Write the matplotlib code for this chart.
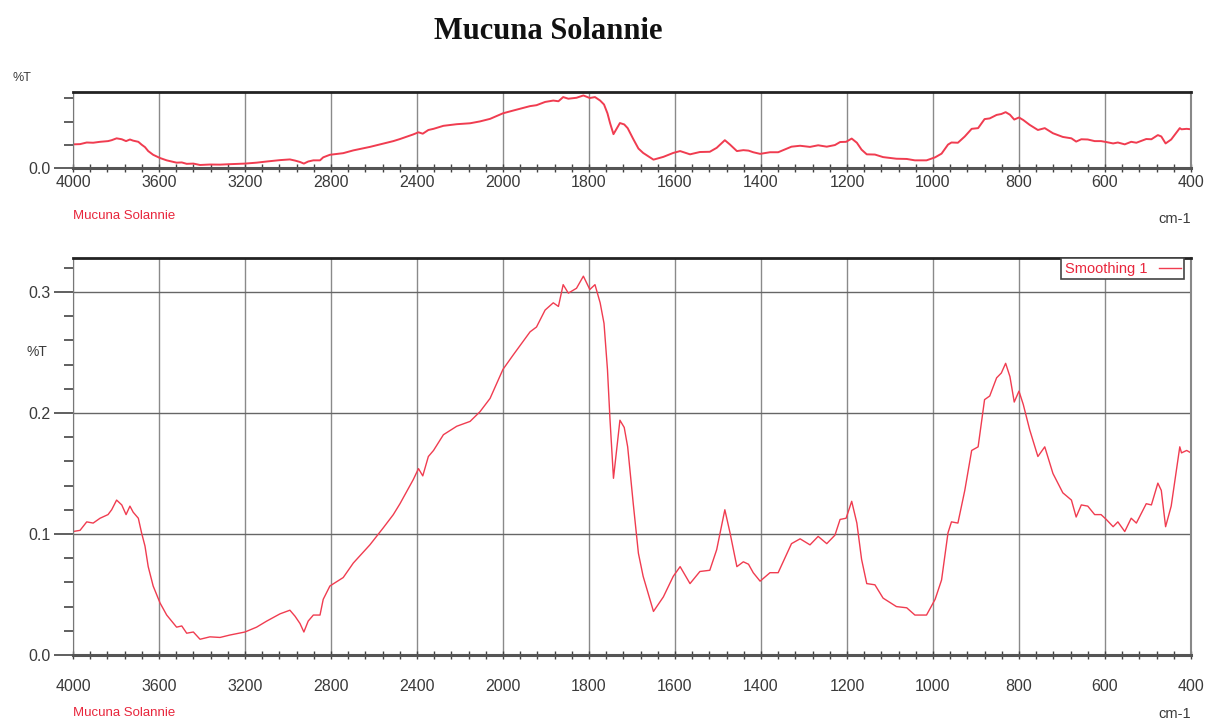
import numpy as np
import matplotlib.pyplot as plt
from matplotlib.ticker import FixedLocator, MultipleLocator, NullFormatter

# wavenumber (cm-1) and %T
wavenumber = [4000, 3967, 3936, 3906, 3874, 3837, 3820, 3797, 3773, 3753, 3735, 3720,
              3696, 3681, 3665, 3650, 3627, 3595, 3564, 3518, 3494, 3471, 3440, 3409,
              3363, 3316, 3270, 3200, 3146, 3099, 3037, 2991, 2967, 2944, 2926, 2906,
              2882, 2851, 2836, 2805, 2743, 2696, 2619, 2557, 2510, 2479, 2417, 2393,
              2373, 2347, 2323, 2277, 2215, 2153, 2107, 2060, 2000, 1976, 1937, 1922,
              1902, 1883, 1871, 1860, 1848, 1829, 1813, 1798, 1786, 1774, 1765, 1757,
              1751, 1743, 1728, 1718, 1710, 1697, 1685, 1674, 1650, 1627, 1604, 1588,
              1565, 1542, 1519, 1503, 1484, 1472, 1456, 1441, 1429, 1418, 1402, 1379,
              1360, 1329, 1309, 1286, 1267, 1247, 1228, 1216, 1202, 1189, 1177, 1166,
              1154, 1135, 1116, 1085, 1061, 1042, 1015, 995, 980, 965, 957, 942,
              926, 910, 895, 880, 868, 852, 841, 831, 821, 811, 800, 790,
              775, 756, 740, 721, 698, 678, 667, 655, 640, 624, 609, 597,
              581, 570, 554, 539, 527, 504, 492, 477, 469, 459, 446, 437,
              426, 422, 410, 400]
transmittance = [0.102, 0.103, 0.110, 0.109, 0.113, 0.116, 0.120, 0.128, 0.124, 0.116, 0.123, 0.118,
                 0.113, 0.101, 0.090, 0.073, 0.057, 0.043, 0.033, 0.023, 0.024, 0.018, 0.019, 0.013,
                 0.015, 0.0145, 0.0165, 0.019, 0.023, 0.028, 0.034, 0.037, 0.032, 0.026, 0.019, 0.028,
                 0.033, 0.033, 0.046, 0.057, 0.064, 0.076, 0.091, 0.105, 0.116, 0.125, 0.145, 0.154,
                 0.148, 0.164, 0.169, 0.182, 0.189, 0.193, 0.201, 0.212, 0.236, 0.248, 0.267, 0.271,
                 0.285, 0.291, 0.288, 0.306, 0.299, 0.303, 0.313, 0.302, 0.306, 0.291, 0.274, 0.236,
                 0.194, 0.146, 0.194, 0.188, 0.172, 0.125, 0.084, 0.065, 0.036, 0.048, 0.065, 0.073,
                 0.059, 0.069, 0.070, 0.087, 0.120, 0.101, 0.073, 0.077, 0.075, 0.068, 0.061, 0.068,
                 0.068, 0.092, 0.096, 0.091, 0.098, 0.092, 0.099, 0.112, 0.113, 0.127, 0.109, 0.079,
                 0.059, 0.058, 0.047, 0.040, 0.039, 0.033, 0.033, 0.046, 0.062, 0.101, 0.110, 0.109,
                 0.136, 0.169, 0.172, 0.211, 0.214, 0.229, 0.233, 0.241, 0.230, 0.209, 0.218, 0.207,
                 0.186, 0.164, 0.172, 0.150, 0.134, 0.128, 0.114, 0.124, 0.123, 0.116, 0.116, 0.112,
                 0.106, 0.110, 0.102, 0.113, 0.109, 0.125, 0.124, 0.142, 0.136, 0.106, 0.123, 0.145,
                 0.172, 0.167, 0.169, 0.167]

xticks = [4000, 3600, 3200, 2800, 2400, 2000, 1800, 1600, 1400, 1200, 1000, 800, 600, 400]
sample = "Mucuna Solannie"
legend_label = "Smoothing 1"

RED = "#f03c50"
TXT = "#3a3a3a"
SANS = "Liberation Sans"


# the spectrometer axis changes scale at 2000 cm-1
def fwd(x):
    x = np.asarray(x, dtype=float)
    return np.where(x >= 2000, (x - 2000) / 400.0, (x - 2000) / 200.0)


def inv(u):
    u = np.asarray(u, dtype=float)
    return np.where(u >= 0, 2000 + 400.0 * u, 2000 + 200.0 * u)


minor_x = list(np.arange(4000, 2000, -80)) + list(np.arange(2000, 399, -40))


def style_axes(ax, top_panel):
    ax.set_xscale("function", functions=(fwd, inv))
    ax.set_xlim(4000, 400)
    ax.set_ylim(0, 0.328)
    ax.xaxis.set_major_locator(FixedLocator(xticks))
    ax.xaxis.set_minor_locator(FixedLocator(minor_x))
    ax.xaxis.set_minor_formatter(NullFormatter())
    ax.set_xticklabels([str(t) for t in xticks])
    ax.grid(axis="x", color="#8a8a8a", lw=1.0)
    ax.tick_params(axis="x", which="both", direction="inout", length=6, width=1,
                   color="#444444", labelcolor=TXT, labelsize=11.5,
                   pad=2 if top_panel else 14)
    for lab in ax.get_xticklabels():
        lab.set_family(SANS)
    ax.spines["top"].set_color("#222222")
    ax.spines["top"].set_linewidth(2.0)
    ax.spines["bottom"].set_color("#555555")
    ax.spines["bottom"].set_linewidth(2.2)
    ax.spines["left"].set_color("#777777")
    ax.spines["right"].set_color("#888888")
    ax.spines["right"].set_linewidth(1.5)
    ax.set_axisbelow(True)


fig = plt.figure(figsize=(12.08, 7.26), dpi=100)
fig.text(0.454, 0.957, sample, family="Liberation Serif", weight="bold",
         fontsize=22, ha="center", va="center", color="#111111")

# top overview panel
ax1 = fig.add_axes([0.0604, 0.7686, 0.9255, 0.1047])
ax1.plot(wavenumber, transmittance, color=RED, lw=1.4)
style_axes(ax1, True)
ax1.yaxis.set_major_locator(FixedLocator([0.0]))
ax1.yaxis.set_minor_locator(FixedLocator([0.1, 0.2, 0.3]))
ax1.set_yticklabels(["0.0"])
ax1.tick_params(axis="y", which="major", direction="out", length=14, width=1.2,
                color="#444444", labelcolor=TXT, labelsize=11.5, pad=2)
ax1.tick_params(axis="y", which="minor", direction="out", length=6.5, width=1.2,
                color="#444444")
for lab in ax1.get_yticklabels():
    lab.set_family(SANS)
fig.text(0.010, 0.893, "%T", family=SANS, fontsize=9, color=TXT, va="center")
fig.text(0.0604, 0.703, sample, family=SANS, fontsize=9.5, color="#e8263c", va="center")
fig.text(0.986, 0.699, "cm-1", family=SANS, fontsize=10.5, color=TXT, va="center", ha="right")

# main panel
ax2 = fig.add_axes([0.0604, 0.0978, 0.9255, 0.5468])
ax2.plot(wavenumber, transmittance, color=RED, lw=1.0, label=legend_label)
style_axes(ax2, False)
ax2.yaxis.set_major_locator(MultipleLocator(0.1))
ax2.yaxis.set_minor_locator(MultipleLocator(0.02))
ax2.yaxis.set_major_formatter(lambda v, p: f"{v:.1f}")
ax2.grid(axis="y", which="major", color="#666666", lw=1.0)
ax2.tick_params(axis="y", which="major", direction="out", length=14, width=1.2,
                color="#444444", labelcolor=TXT, labelsize=11.5, pad=2)
ax2.tick_params(axis="y", which="minor", direction="out", length=6.5, width=1.2,
                color="#444444")
for lab in ax2.get_yticklabels():
    lab.set_family(SANS)
fig.text(0.022, 0.515, "%T", family=SANS, fontsize=10, color=TXT, va="center")
fig.text(0.0604, 0.018, sample, family=SANS, fontsize=9.5, color="#e8263c", va="center")
fig.text(0.986, 0.017, "cm-1", family=SANS, fontsize=10.5, color=TXT, va="center", ha="right")

leg = ax2.legend(loc="upper right", markerfirst=False, fancybox=False, framealpha=1,
                 edgecolor="#444444", borderaxespad=0.0, handlelength=1.5,
                 borderpad=0.25, prop={"family": SANS, "size": 10.5},
                 labelcolor="#e8263c", bbox_to_anchor=(0.994, 1.0))
leg.get_frame().set_linewidth(1.2)

fig.savefig("out.png", dpi=100)
